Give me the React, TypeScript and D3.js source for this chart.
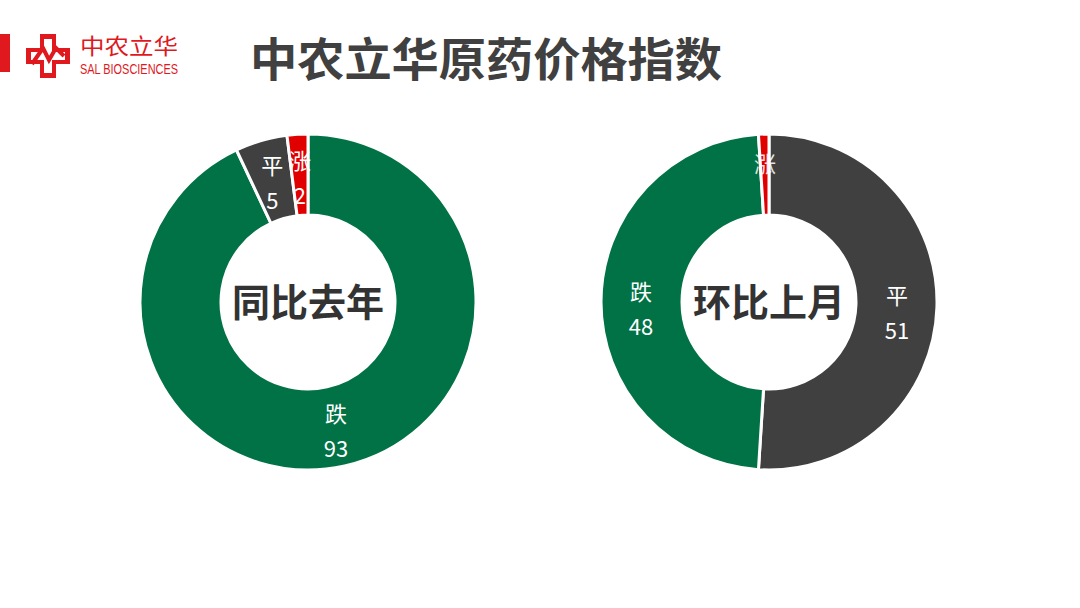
import React from "react";
import * as d3 from "d3";

const W = 1080;
const H = 608;

const leftCategories = ["跌", "平", "涨"];
const leftValues = [93, 5, 2];
const rightCategories = ["平", "跌", "涨"];
const rightValues = [51, 48, 1];
const leftTitle = "同比去年";
const rightTitle = "环比上月";
const mainTitle = "中农立华原药价格指数";

const colorMap: Record<string, string> = {
  "跌": "#007245",
  "平": "#404040",
  "涨": "#e00000",
};

const outerR = 168;
const innerR = 87;

function Donut({ cx, cy, cats, vals, title, showValue, dy }: any) {
  const data = cats.map((c: string, i: number) => ({ c, v: vals[i] }));
  const pie = d3.pie<any>().value((d) => d.v).sort(null);
  const arcs = pie(data);
  const arc = d3.arc<any>().innerRadius(innerR).outerRadius(outerR);
  const labelArc = d3.arc<any>().innerRadius(128).outerRadius(128);
  return (
    <g transform={`translate(${cx},${cy})`}>
      {arcs.map((a, i) => (
        <path key={i} d={arc(a) as string} fill={colorMap[a.data.c]} stroke="#ffffff" strokeWidth={3} />
      ))}
      {arcs.map((a, i) => {
        const [x, y] = labelArc.centroid(a);
        const sv = showValue(a.data);
        return (
          <g key={"l" + i} fill="#ffffff" fontFamily="'Noto Sans CJK SC', sans-serif" fontSize={22} textAnchor="middle"
            opacity={a.data.v < 2 ? 0.85 : 1}>
            <text x={x} y={y - 5 + dy}>{a.data.c}</text>
            {sv && <text x={x} y={y + 30 + dy}>{a.data.v}</text>}
          </g>
        );
      })}
      <text x={0} y={14} textAnchor="middle" fontFamily="'Noto Sans CJK SC', sans-serif" fontWeight={700}
        fontSize={38} fill="#333333">{title}</text>
    </g>
  );
}

function Logo() {
  return (
    <g>
      <rect x={0} y={34} width={10} height={38} fill="#e0191e" />
      <g transform="translate(26,34)">
        <path d="M14 0 H30 V14 H44 V30 H30 V44 H14 V30 H0 V14 H14 Z" fill="#e0191e" />
        <path d="M18 5 H26 V18 H39 V26 H26 V39 H18 V26 H5 V18 H18 Z" fill="#ffffff" />
        <path d="M6 30 L17 14 L23 26 L30 14 L38 22" fill="none" stroke="#e0191e" strokeWidth={4} />
      </g>
      <text x={80} y={54} fontFamily="'Noto Sans CJK SC', sans-serif" fontSize={22} fill="#e0191e"
        textLength={98} lengthAdjust="spacingAndGlyphs">中农立华</text>
      <text x={80} y={74} fontFamily="'Liberation Sans Narrow', 'Liberation Sans', sans-serif" fontSize={14}
        fill="#e0191e" textLength={98} lengthAdjust="spacingAndGlyphs">SAL BIOSCIENCES</text>
    </g>
  );
}

export default function App() {
  return (
    <svg width={W} height={H} style={{ position: "absolute", left: 0, top: 0, background: "#ffffff" }}>
      <rect width={W} height={H} fill="#ffffff" />
      <Logo />
      <text x={250} y={76} fontFamily="'Noto Sans CJK SC', sans-serif" fontWeight={700} fontSize={46}
        fill="#404040" textLength={472} lengthAdjust="spacingAndGlyphs">{mainTitle}</text>
      <Donut cx={308} cy={302} cats={leftCategories} vals={leftValues} title={leftTitle}
        showValue={() => true} dy={0} />
      <Donut cx={769} cy={302} cats={rightCategories} vals={rightValues} title={rightTitle}
        showValue={(d: any) => d.v > 1} dy={3} />
    </svg>
  );
}
